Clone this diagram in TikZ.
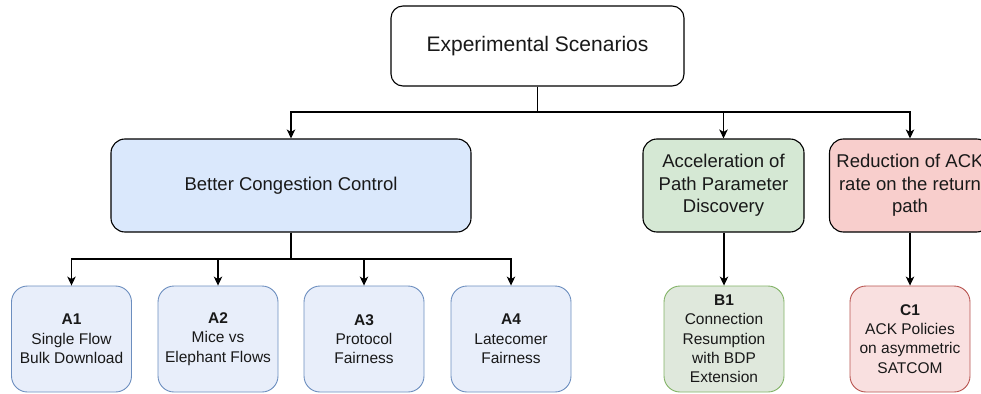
\documentclass[tikz,border=0pt]{standalone}
\usepackage{fontspec}
\setmainfont{Liberation Sans}
\usetikzlibrary{arrows.meta}
\definecolor{blueFill}{HTML}{DAE8FC}
\definecolor{blueLight}{HTML}{E8EEFA}
\definecolor{blueLine}{HTML}{6C8EBF}
\definecolor{greenFill}{HTML}{D5E8D4}
\definecolor{greenLight}{HTML}{DFE8DC}
\definecolor{greenLine}{HTML}{82B366}
\definecolor{redFill}{HTML}{F8CECC}
\definecolor{redLight}{HTML}{F9E0E0}
\definecolor{redLine}{HTML}{B85450}
\begin{document}
\begin{tikzpicture}[x=1pt,y=-1pt,
  box/.style={draw=black, line width=1.1pt, rounded corners=12pt, align=center,
    inner sep=0pt, text=black!90},
  rootbox/.style={box, fill=white, minimum width=293pt, minimum height=80pt,
    font=\fontsize{21}{25}\selectfont},
  midbox/.style={box, minimum height=93pt, rounded corners=14pt,
    font=\fontsize{18.5}{22.5}\selectfont},
  leafbox/.style={box, line width=0.9pt, minimum width=120pt, minimum height=106pt,
    rounded corners=16pt, font=\fontsize{15.5}{19.3}\selectfont},
  arr/.style={line width=1.1pt, -{Stealth[length=9pt,width=8.5pt,inset=2.5pt]}}
]
\useasboundingbox (0,0) rectangle (981,393);

% top level
\node[rootbox] (root) at (537.5,46) {Experimental Scenarios};

% second level
\node[midbox, fill=blueFill, minimum width=360pt] (bcc) at (291,185.5) {Better Congestion Control};
\node[midbox, fill=greenFill, minimum width=161pt] (acc) at (723.5,185.5) {Acceleration of\\Path Parameter\\Discovery};
\node[midbox, fill=redFill, minimum width=161pt] (red) at (910,185.5) {Reduction of ACK\\rate on the return\\path};

% leaves
\node[leafbox, fill=blueLight, draw=blueLine] (a1) at (71.5,339) {\textbf{A1}\\Single Flow\\Bulk Download};
\node[leafbox, fill=blueLight, draw=blueLine] (a2) at (218,339) {\textbf{A2}\\Mice vs\\Elephant Flows};
\node[leafbox, fill=blueLight, draw=blueLine] (a3) at (364,339) {\textbf{A3}\\Protocol\\Fairness};
\node[leafbox, fill=blueLight, draw=blueLine] (a4) at (511,339) {\textbf{A4}\\Latecomer\\Fairness};
\node[leafbox, fill=greenLight, draw=greenLine] (b1) at (724,339) {\textbf{B1}\\Connection\\Resumption\\with BDP\\Extension};
\node[leafbox, fill=redLight, draw=redLine] (c1) at (910,339) {\textbf{C1}\\ACK Policies\\on asymmetric\\SATCOM};

% bus lines
\coordinate (j1) at (537.5,112);
\coordinate (j2) at (291,259);

\draw[arr] (root.south) -- (root.south |- j1) -| (bcc.north);
\draw[arr] (root.south) -- (root.south |- j1) -| (acc.north);
\draw[arr] (root.south) -- (root.south |- j1) -| (red.north);

\draw[arr] (bcc.south) -- (bcc.south |- j2) -| (a1.north);
\draw[arr] (bcc.south) -- (bcc.south |- j2) -| (a2.north);
\draw[arr] (bcc.south) -- (bcc.south |- j2) -| (a3.north);
\draw[arr] (bcc.south) -- (bcc.south |- j2) -| (a4.north);

\draw[arr] (acc.south -| b1.north) -- (b1.north);
\draw[arr] (red.south) -- (c1.north);
\end{tikzpicture}
\end{document}
